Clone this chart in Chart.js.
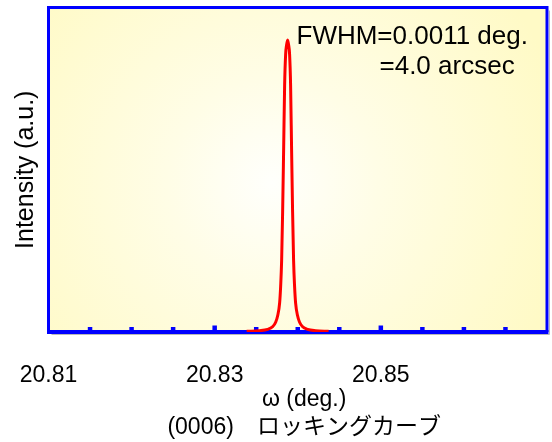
<!DOCTYPE html>
<html>
<head>
<meta charset="utf-8">
<script src="https://cdn.jsdelivr.net/npm/chart.js@4.4.0/dist/chart.umd.min.js"></script>
<style>
  body { margin: 0; background: #ffffff; }
</style>
</head>
<body>
<canvas id="chart" width="552" height="442"></canvas>
<script>
//Dati
var omega = [20.83385, 20.83541, 20.83637, 20.83697, 20.83734, 20.83758, 20.83782, 20.83794, 20.83806, 20.83818,
             20.83830, 20.83842, 20.83854, 20.83866, 20.83878, 20.83890, 20.83902, 20.83914, 20.83926, 20.83938,
             20.83950, 20.83962, 20.83974, 20.83998, 20.84022, 20.84059, 20.84119, 20.84215, 20.84371];
var intensity = [0.002, 0.004, 0.008, 0.016, 0.030, 0.050, 0.090, 0.14, 0.22, 0.37,
                 0.56, 0.76, 0.855, 0.885, 0.90, 0.885, 0.855, 0.76, 0.56, 0.37,
                 0.22, 0.14, 0.090, 0.050, 0.030, 0.016, 0.008, 0.004, 0.002];

var xMin = 20.81
var xMax = 20.87
var xStep = 0.005
var xLabels = [20.81, 20.83, 20.85]
var noteLines = ["FWHM=0.0011 deg.", "=4.0 arcsec"]

var fontFamily = "'Liberation Sans', Arial, 'Noto Sans CJK JP', sans-serif"
var blue = "#0000ff"

function isLabel(v){
    for(var i = 0; i < xLabels.length; i++){
        if(Math.abs(v - xLabels[i]) < 1e-6) return true
    }
    return false
}

var points = []
omega.forEach((x, i) => {
    points.push({x: x, y: intensity[i]})
});

//Sfondo, cornice e tacche dell'asse
var framePlugin = {
    id: 'frame',
    beforeDraw: function(chart){
        var ctx = chart.ctx
        var a = chart.chartArea
        ctx.save()
        var cx = a.left + (a.right - a.left) * 0.45
        var cy = a.top + (a.bottom - a.top) * 0.54
        var g = ctx.createRadialGradient(cx, cy, 0, cx, cy, 300)
        g.addColorStop(0, '#fffffc')
        g.addColorStop(0.35, '#fffde6')
        g.addColorStop(1, '#fffac6')
        ctx.fillStyle = g
        ctx.fillRect(a.left, a.top, a.right - a.left, a.bottom - a.top)
        ctx.restore()
    },
    beforeDatasetsDraw: function(chart){
        var ctx = chart.ctx
        var a = chart.chartArea
        var xs = chart.scales.x
        ctx.save()
        //ombra grigia
        ctx.strokeStyle = '#b8b8b8'
        ctx.lineWidth = 1
        ctx.beginPath()
        ctx.moveTo(a.right + 2.5, a.top + 3)
        ctx.lineTo(a.right + 2.5, a.bottom + 2.5)
        ctx.lineTo(a.left + 3, a.bottom + 2.5)
        ctx.stroke()

        ctx.strokeStyle = blue
        ctx.lineWidth = 3
        ctx.beginPath()
        ctx.moveTo(a.left, a.bottom)
        ctx.lineTo(a.left, a.top)
        ctx.lineTo(a.right, a.top)
        ctx.lineTo(a.right, a.bottom)
        ctx.stroke()
        ctx.lineWidth = 4
        ctx.beginPath()
        ctx.moveTo(a.left - 1.5, a.bottom)
        ctx.lineTo(a.right + 1.5, a.bottom)
        ctx.stroke()

        //tacche verso l'interno
        ctx.lineWidth = 4.5
        xs.ticks.forEach(t => {
            var px = xs.getPixelForValue(t.value)
            if(px <= a.left + 2 || px >= a.right - 2) return
            var h = isLabel(t.value) ? 6.5 : 5
            ctx.beginPath()
            ctx.moveTo(px, a.bottom)
            ctx.lineTo(px, a.bottom - h)
            ctx.stroke()
        });
        ctx.restore()
    },
    afterDraw: function(chart){
        var ctx = chart.ctx
        var a = chart.chartArea
        ctx.save()
        ctx.fillStyle = '#000000'
        ctx.font = "26px " + fontFamily
        ctx.textAlign = 'left'
        ctx.textBaseline = 'alphabetic'
        ctx.fillText(noteLines[0], a.left + 248, a.top + 36)
        ctx.fillText(noteLines[1], a.left + 331, a.top + 66)
        ctx.restore()
    }
}

var ctx1 = document.getElementById("chart");

chart = new Chart(ctx1, {
    type: 'line',
    data: {
        datasets: [{
            data: points,
            borderColor: '#ff0000',
            borderWidth: 3,
            pointRadius: 0,
            fill: false,
            cubicInterpolationMode: 'monotone'
        }]
    },
    options: {
        responsive: false,
        animation: false,
        layout: { padding: { top: 7.5, right: 5, left: 0, bottom: 0 } },
        plugins: {
            legend: { display: false },
            tooltip: { enabled: false }
        },
        scales: {
            x: {
                type: 'linear',
                min: xMin,
                max: xMax,
                grid: { display: false, drawTicks: false },
                border: { display: false },
                afterFit: function(s){
                    s.height = 110
                    s.paddingLeft = 0
                    s.paddingRight = 0
                },
                ticks: {
                    stepSize: xStep,
                    autoSkip: false,
                    maxRotation: 0,
                    padding: 30,
                    color: '#000000',
                    font: { family: fontFamily, size: 23 },
                    callback: function(v){
                        return isLabel(v) ? v.toFixed(2) : ''
                    }
                },
                title: {
                    display: true,
                    text: ["  \u03c9 (deg.)", "  (0006)\u3000\u30ed\u30c3\u30ad\u30f3\u30b0\u30ab\u30fc\u30d6"],
                    color: '#000000',
                    font: { family: fontFamily, size: 23, lineHeight: 1.2 },
                    padding: { top: 0, bottom: 1 }
                }
            },
            y: {
                min: 0,
                max: 1,
                grid: { display: false, drawTicks: false },
                border: { display: false },
                ticks: { display: false },
                afterFit: function(s){ s.width = 48.5 },
                title: {
                    display: true,
                    text: "Intensity (a.u.)",
                    color: '#000000',
                    font: { family: fontFamily, size: 25 },
                    padding: { top: 11, bottom: 0 }
                }
            }
        }
    },
    plugins: [framePlugin]
});
</script>
</body>
</html>
